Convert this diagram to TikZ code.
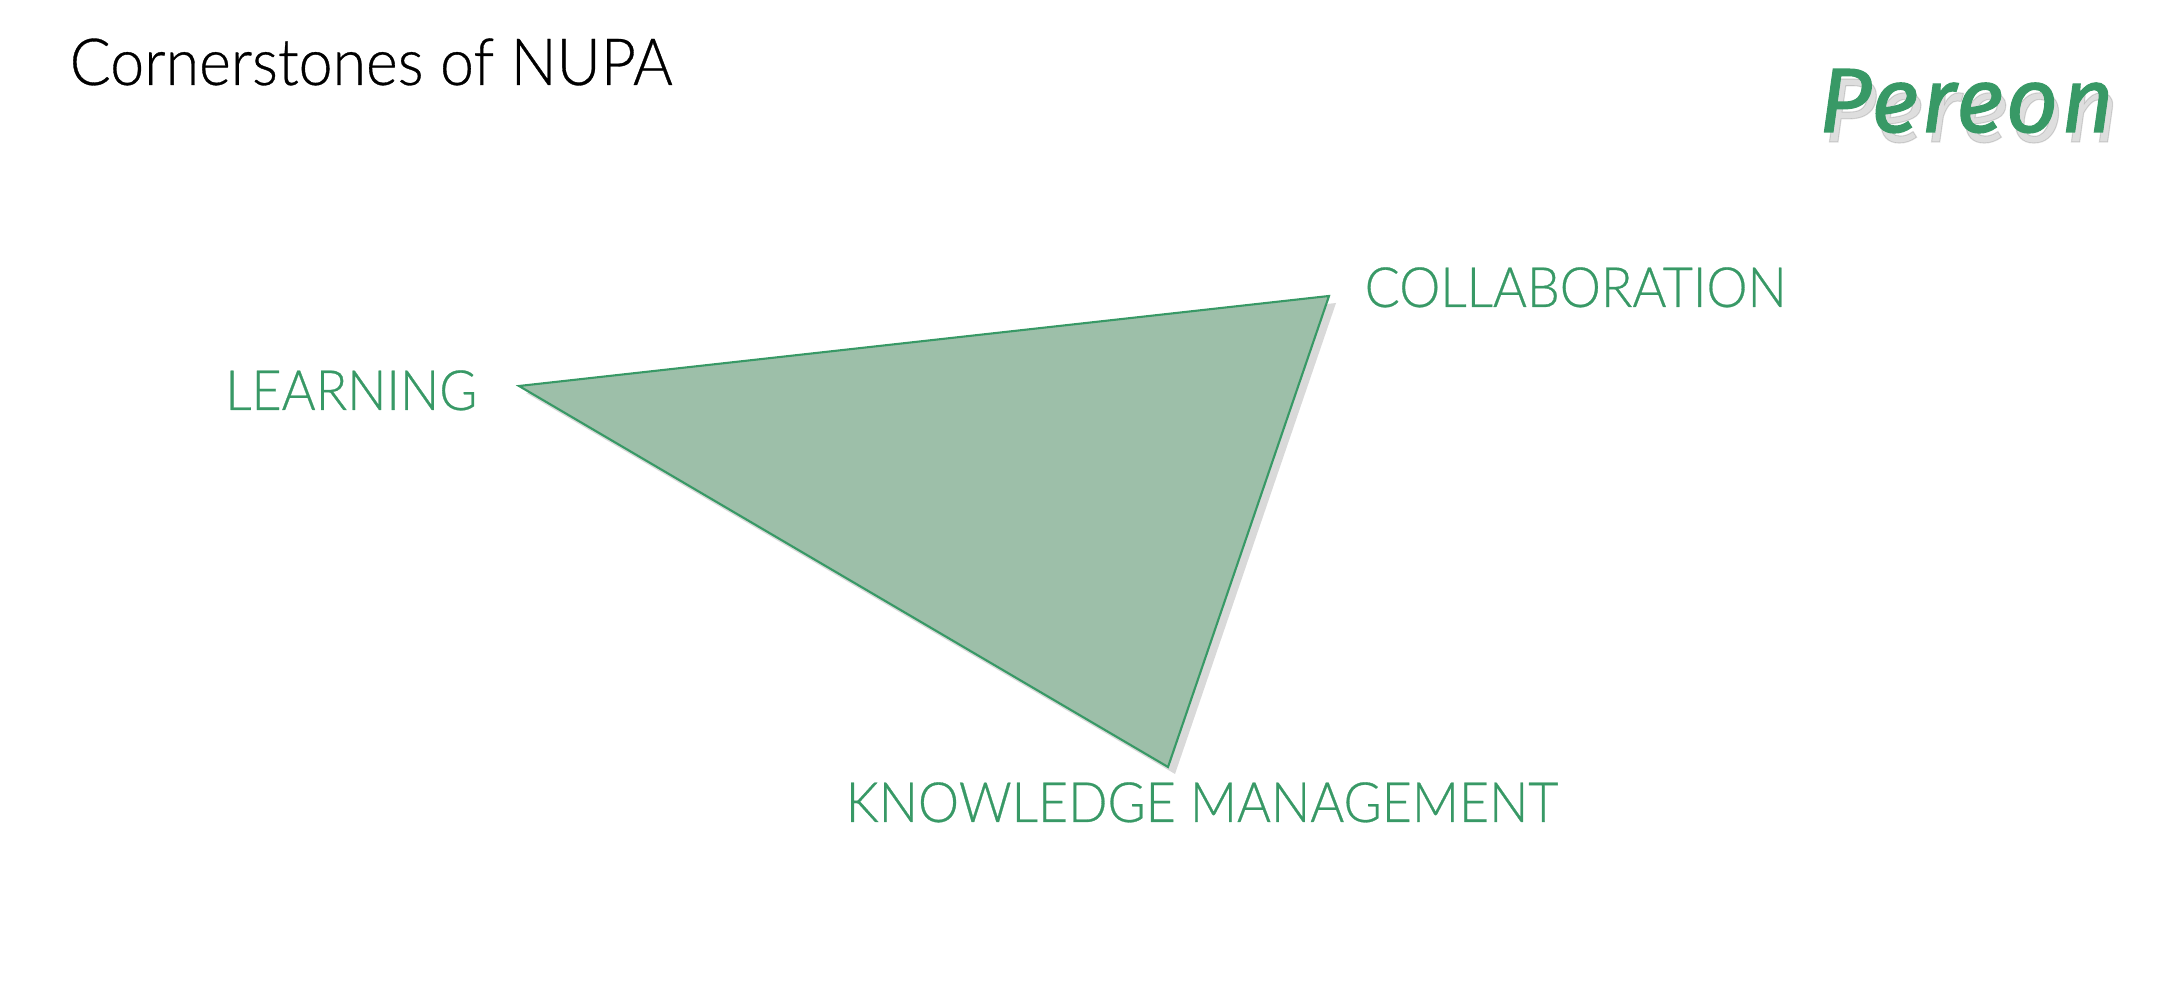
\documentclass[tikz,border=0pt]{standalone}
\usepackage{fontspec}
\newfontfamily\thinfont{Lato Light}[FakeStretch=0.935, FakeBold=0.5]
\newfontfamily\logofont{Fira Sans}[LetterSpace=3, FakeBold=1.2]
\usetikzlibrary{shadows}
\definecolor{pgreen}{RGB}{56,153,102}
\definecolor{pfill}{RGB}{157,191,169}

\begin{document}
\begin{tikzpicture}[
    corner/.style={text=pgreen, inner sep=0pt, font=\thinfont\fontsize{15.8}{18}\selectfont},
    heading/.style={text=black, inner sep=0pt, font=\thinfont\fontsize{18.5}{22}\selectfont},
    brand/.style={anchor=base west, inner sep=0pt, font=\logofont\itshape\fontsize{26}{30}\selectfont}]
    \useasboundingbox (0,0) rectangle (21.6,9.88);

    % corners of the triangle
    \coordinate (L) at (5.19,6.02);
    \coordinate (C) at (13.29,6.92);
    \coordinate (K) at (11.68,2.21);

    \draw[pgreen, fill=pfill, line width=0.6pt,
          drop shadow={shadow xshift=0.07cm, shadow yshift=-0.07cm, opacity=0.3}]
        (L) -- (C) -- (K) -- cycle;

\node (title) at (0.69,9.03) [heading, anchor=base west] {Cornerstones of NUPA};

\node (learning) at (4.78,5.78) [corner, anchor=base east] {LEARNING};
\node (collab) at (13.64,6.81) [corner, anchor=base west] {COLLABORATION};
\node (knowledge) at (12.02,1.66) [corner, anchor=base] {KNOWLEDGE MANAGEMENT};

% logo with its shadow
\node (logoshadow) at (18.23,8.46) [brand, text=black, text opacity=0.13] {Pereon};
\node (logo) at (18.18,8.56) [brand, text=pgreen] {Pereon};
  \end{tikzpicture}
\end{document}
